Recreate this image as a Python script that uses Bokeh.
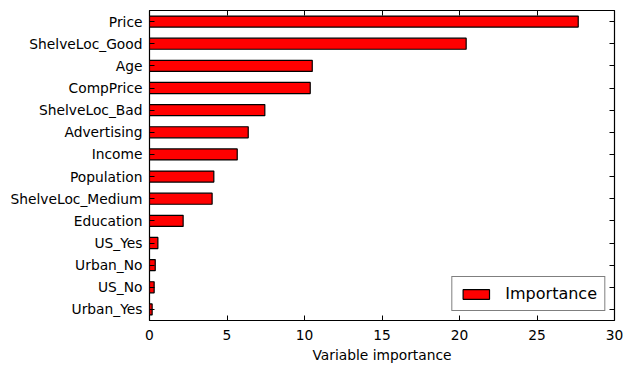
from bokeh.plotting import figure
from bokeh.models import (Range1d, FactorRange, SingleIntervalTicker, LinearAxis,
                          CategoricalAxis, Legend, LegendItem, ColumnDataSource,
                          CustomLabelingPolicy)
from bokeh.embed import file_html
from bokeh.resources import INLINE

features = ["Price", "ShelveLoc_Good", "Age", "CompPrice", "ShelveLoc_Bad",
            "Advertising", "Income", "Population", "ShelveLoc_Medium",
            "Education", "US_Yes", "Urban_No", "US_No", "Urban_Yes"]
importance = [27.66, 20.43, 10.5, 10.37, 7.44, 6.37, 5.66, 4.15, 4.04,
              2.17, 0.54, 0.37, 0.3, 0.17]
x_ticks_interval = 5
x_min, x_max = 0, 30
x_label = "Variable importance"
legend_label = "Importance"

FONT = "DejaVu Sans"
TICK_SIZE = "13.8px"

src = ColumnDataSource(dict(feature=features, importance=importance))

p = figure(
    y_range=FactorRange(factors=list(reversed(features)), range_padding=0),
    x_range=Range1d(x_min, x_max),
    frame_width=465, frame_height=310,
    min_border_left=149, min_border_right=10, min_border_top=10, min_border_bottom=42,
    output_backend="svg", toolbar_location=None,
    background_fill_color="white", border_fill_color="white",
)

r = p.hbar(y="feature", right="importance", left=0, height=0.5, source=src,
           fill_color="red", line_color="black", line_width=1.2)

p.xgrid.visible = False
p.ygrid.visible = False
p.outline_line_color = "black"
p.outline_line_width = 1.2
p.outline_line_alpha = 1

ticker = SingleIntervalTicker(interval=x_ticks_interval)

xa = p.xaxis[0]
xa.ticker = ticker
xa.axis_line_color = None
xa.major_tick_in = 5
xa.major_tick_out = 0
xa.minor_tick_line_color = None
xa.major_label_text_font = FONT
xa.major_label_text_font_size = TICK_SIZE
xa.major_label_text_color = "black"
xa.major_label_standoff = 5
xa.axis_label = x_label
xa.axis_label_text_font = FONT
xa.axis_label_text_font_size = TICK_SIZE
xa.axis_label_text_font_style = "normal"
xa.axis_label_text_color = "black"
xa.axis_label_standoff = 4

ya = p.yaxis[0]
ya.axis_line_color = None
ya.major_tick_in = 5
ya.major_tick_out = 0
ya.major_label_text_font = FONT
ya.major_label_text_font_size = TICK_SIZE
ya.major_label_text_color = "black"
ya.major_label_standoff = 7

hide_labels = CustomLabelingPolicy(code="""
const n = indices.size
for (let i = 0; i < n; i++) indices.unset(i)
return indices
""")

top = LinearAxis(ticker=ticker, axis_line_color=None, major_tick_in=5, major_tick_out=0,
                 minor_tick_line_color=None, major_label_policy=hide_labels,
                 major_label_text_font_size="1px", major_label_standoff=0)
p.add_layout(top, "above")
right = CategoricalAxis(axis_line_color=None, major_tick_in=5, major_tick_out=0,
                        major_label_policy=hide_labels,
                        major_label_text_font_size="1px", major_label_standoff=0)
p.add_layout(right, "right")

legend = Legend(items=[LegendItem(label=legend_label, renderers=[r])],
                location="bottom_right",
                label_text_font=FONT, label_text_font_size="16px",
                label_text_color="black",
                glyph_width=33, glyph_height=12, label_standoff=13,
                label_height=17,
                padding=7, margin=9, spacing=0,
                border_line_color="black", border_line_width=1,
                background_fill_alpha=1)
p.add_layout(legend, "center")

open("out.html", "w").write(file_html(p, INLINE))
